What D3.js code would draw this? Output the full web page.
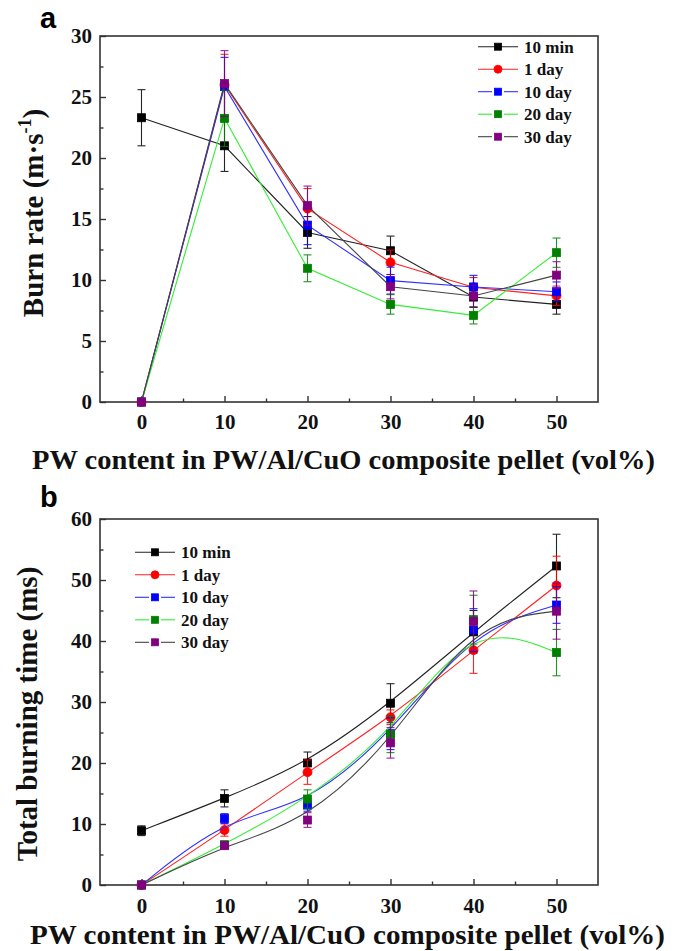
<!DOCTYPE html>
<html><head><meta charset="utf-8">
<script src="https://cdn.jsdelivr.net/npm/d3@7"></script>
<style>body{margin:0;background:#fff}</style>
</head><body>
<svg id="c" width="688" height="951"></svg>
<script>
// ---------------- DATA ----------------
const xValues = [0, 10, 20, 30, 40, 50];
const seriesNames = ["10 min", "1 day", "10 day", "20 day", "30 day"];

// Panel a: burn rate (m/s)
const rate10min = [23.3, 21.0, 13.9, 12.4, 8.6, 8.0];
const rate1day  = [0, 26.0, 15.85, 11.45, 9.4, 8.7];
const rate10day = [0, 25.85, 14.5, 9.95, 9.43, 9.04];
const rate20day = [0, 23.25, 10.96, 8.0, 7.1, 12.24];
const rate30day = [0, 26.1, 16.1, 9.45, 8.69, 10.4];
const rateErr10min = [2.3, 2.1, 1.3, 1.2, 0.85, 0.8];
const rateErr1day  = [0, 2.5, 1.65, 1.0, 0.8, 0.8];
const rateErr10day = [0, 2.4, 1.6, 1.1, 0.95, 0.8];
const rateErr20day = [0, 2.3, 1.1, 0.8, 0.7, 1.2];
const rateErr30day = [0, 2.7, 1.6, 1.0, 0.9, 1.1];

// Panel b: total burning time (ms)
const time10min = [8.9, 14.2, 20.0, 29.8, 41.5, 52.3];
const time1day  = [0, 9.0, 18.5, 27.5, 38.5, 49.1];
const time10day = [0, 10.9, 13.1, 24.8, 41.8, 45.9];
const time20day = [0, 6.6, 14.1, 24.7, 43.5, 38.1];
const time30day = [0, 6.45, 10.65, 23.3, 43.2, 44.9];
const timeErr10min = [0.8, 1.4, 1.8, 3.2, 3.5, 5.2];
const timeErr1day  = [0, 1.0, 2.0, 1.2, 3.8, 4.8];
const timeErr10day = [0, 0.8, 1.0, 2.6, 3.5, 3.0];
const timeErr20day = [0, 0.6, 1.5, 3.0, 4.0, 3.8];
const timeErr30day = [0, 0.5, 1.2, 2.5, 5.0, 4.6];

const xTicks = [0, 10, 20, 30, 40, 50];
const xMinorTicks = [5, 15, 25, 35, 45];
const rateTicks = [0, 5, 10, 15, 20, 25, 30];
const rateMinorTicks = [2.5, 7.5, 12.5, 17.5, 22.5, 27.5];
const timeTicks = [0, 10, 20, 30, 40, 50, 60];
const timeMinorTicks = [5, 15, 25, 35, 45, 55];

// ---------------- STYLE ----------------
const lineColors   = ["#222222", "#ff2020", "#3030ff", "#33ee33", "#444444"];
const markerColors = ["#000000", "#ff0000", "#0000ff", "#008000", "#800080"];
const markerShapes = ["square", "circle", "square", "square", "square"];
const legendGap    = [false, false, true, true, true];
const serif = "'Liberation Serif','Times New Roman',serif";
const sans = "'Liberation Sans',Arial,sans-serif";

const svg = d3.select("#c");
const x = d3.scaleLinear().domain([-5, 55]).range([100, 598]);

function drawPanel(cfg) {
  const y = d3.scaleLinear().domain([0, cfg.yMax]).range([cfg.bottom, cfg.top]);
  const g = svg.append("g");

  // axes (ticks inward)
  const ax = g.append("g").attr("transform", `translate(0,${cfg.bottom})`)
    .call(d3.axisBottom(x).tickValues(xTicks).tickSize(-6).tickPadding(cfg.xPad).tickFormat(d3.format("d")));
  const axm = g.append("g").attr("transform", `translate(0,${cfg.bottom})`)
    .call(d3.axisBottom(x).tickValues(xMinorTicks).tickSize(-3.5).tickFormat(""));
  const ay = g.append("g").attr("transform", `translate(100,0)`)
    .call(d3.axisLeft(y).tickValues(cfg.yTicks).tickSize(-6).tickPadding(8).tickFormat(d3.format("d")));
  const aym = g.append("g").attr("transform", `translate(100,0)`)
    .call(d3.axisLeft(y).tickValues(cfg.yMinor).tickSize(-3.5).tickFormat(""));
  [ax, axm, ay, aym].forEach(a => {
    a.select(".domain").remove();
    a.selectAll("line").attr("stroke", "#333").attr("stroke-width", 1.4);
    a.selectAll("text").attr("font-family", serif).attr("font-weight", "bold")
      .attr("font-size", 21).attr("fill", "#111");
  });

  // frame
  g.append("rect").attr("x", 100).attr("y", cfg.top)
    .attr("width", 498).attr("height", cfg.bottom - cfg.top)
    .attr("fill", "none").attr("stroke", "#333").attr("stroke-width", 1.6);

  // series
  const lineGen = d3.line().x((d, i) => x(xValues[i])).y(d => y(d)).curve(cfg.curve);
  cfg.series.forEach((vals, s) => {
    const errs = cfg.errors[s];
    g.append("path").attr("d", lineGen(vals)).attr("fill", "none")
      .attr("stroke", lineColors[s]).attr("stroke-width", 1.1);
    vals.forEach((v, i) => {
      const e = errs[i];
      if (e > 0) {
        const cx = x(xValues[i]);
        const eg = g.append("g").attr("stroke", markerColors[s]).attr("stroke-width", 1.1).attr("opacity", 0.85);
        eg.append("line").attr("x1", cx).attr("x2", cx).attr("y1", y(v - e)).attr("y2", y(v + e));
        eg.append("line").attr("x1", cx - 4).attr("x2", cx + 4).attr("y1", y(v - e)).attr("y2", y(v - e));
        eg.append("line").attr("x1", cx - 4).attr("x2", cx + 4).attr("y1", y(v + e)).attr("y2", y(v + e));
      }
    });
    vals.forEach((v, i) => drawMarker(g, x(xValues[i]), y(v), s, 8));
  });

  // legend
  cfg.legendRows.forEach((ly, s) => {
    const lx = cfg.legendX;
    if (legendGap[s]) {
      g.append("line").attr("x1", lx).attr("x2", lx + 14).attr("y1", ly).attr("y2", ly)
        .attr("stroke", lineColors[s]).attr("stroke-width", 1.1);
      g.append("line").attr("x1", lx + 26).attr("x2", lx + 40).attr("y1", ly).attr("y2", ly)
        .attr("stroke", lineColors[s]).attr("stroke-width", 1.1);
    } else {
      g.append("line").attr("x1", lx).attr("x2", lx + 40).attr("y1", ly).attr("y2", ly)
        .attr("stroke", lineColors[s]).attr("stroke-width", 1.1);
    }
    drawMarker(g, lx + 20, ly, s, 7);
    g.append("text").attr("x", lx + 46).attr("y", ly + 6)
      .attr("font-family", serif).attr("font-weight", "bold").attr("font-size", 17)
      .attr("fill", "#111").text(seriesNames[s]);
  });

  // panel letter
  g.append("text").attr("x", 40).attr("y", cfg.letterY).attr("font-family", sans)
    .attr("font-weight", "bold").attr("font-size", 29).attr("fill", "#000").text(cfg.letter);

  // x title
  g.append("text").attr("x", cfg.xTitleX).attr("y", cfg.xTitleY)
    .attr("font-family", serif).attr("font-weight", "bold").attr("font-size", 28)
    .attr("textLength", cfg.xTitleLen).attr("lengthAdjust", "spacingAndGlyphs")
    .attr("fill", "#111").text("PW content in PW/Al/CuO composite pellet (vol%)");

  // y title
  const yt = g.append("text")
    .attr("transform", `translate(${cfg.yTitleX},${cfg.yTitleY}) rotate(-90)`)
    .attr("text-anchor", "middle").attr("font-family", serif).attr("font-weight", "bold")
    .attr("font-size", 29).attr("fill", "#111");
  cfg.yTitle(yt);
}

function drawMarker(g, cx, cy, s, size) {
  if (markerShapes[s] === "circle") {
    g.append("circle").attr("cx", cx).attr("cy", cy).attr("r", size / 2 + 0.5)
      .attr("fill", markerColors[s]).attr("stroke", markerColors[s]).attr("stroke-width", 0.8);
  } else {
    g.append("rect").attr("x", cx - size / 2).attr("y", cy - size / 2)
      .attr("width", size).attr("height", size)
      .attr("fill", markerColors[s]).attr("stroke", markerColors[s]).attr("stroke-width", 0.8);
  }
}

drawPanel({
  top: 36, bottom: 402, yMax: 30, yTicks: rateTicks, yMinor: rateMinorTicks, xPad: 12,
  curve: d3.curveLinear,
  series: [rate10min, rate1day, rate10day, rate20day, rate30day],
  errors: [rateErr10min, rateErr1day, rateErr10day, rateErr20day, rateErr30day],
  legendX: 478, legendRows: [46.7, 69.2, 91.7, 114.2, 136.7],
  letter: "a", letterY: 28,
  xTitleX: 32, xTitleY: 469, xTitleLen: 623,
  yTitleX: 43, yTitleY: 213,
  yTitle: t => {
    t.append("tspan").text("Burn rate (m\u00B7s");
    t.append("tspan").attr("font-size", 18).attr("dy", -12).text("-1");
    t.append("tspan").attr("dy", 12).text(")");
  }
});

drawPanel({
  top: 519, bottom: 885, yMax: 60, yTicks: timeTicks, yMinor: timeMinorTicks, xPad: 13,
  curve: d3.curveBasis,
  series: [time10min, time1day, time10day, time20day, time30day],
  errors: [timeErr10min, timeErr1day, timeErr10day, timeErr20day, timeErr30day],
  legendX: 135, legendRows: [552.3, 574.8, 597.3, 619.8, 642.3],
  letter: "b", letterY: 507,
  xTitleX: 30, xTitleY: 944, xTitleLen: 635,
  yTitleX: 37, yTitleY: 714,
  yTitle: t => { t.text("Total burning time (ms)"); }
});
</script>
</body></html>
